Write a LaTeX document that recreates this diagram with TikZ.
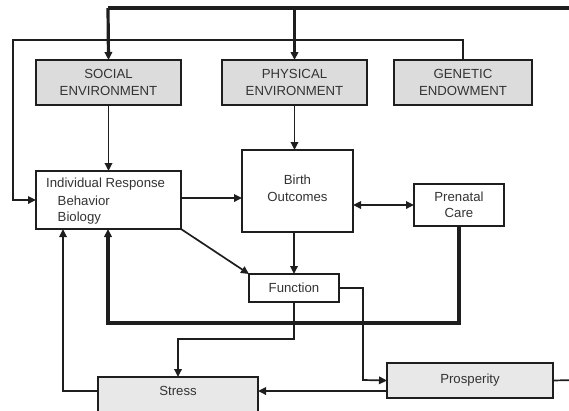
\documentclass[tikz,border=0pt]{standalone}
\usepackage{fontspec}
\setmainfont{Liberation Sans}
\usetikzlibrary{arrows.meta}
\definecolor{boxgray}{HTML}{DCDCDC}
\definecolor{lightgray}{HTML}{E8E8E8}
\definecolor{ink}{HTML}{1E1E1E}
\definecolor{txt}{HTML}{333333}
\begin{document}
\begin{tikzpicture}[x=1pt,y=-1pt,
  txtfont/.style={font=\fontsize{13.2}{16.5}\selectfont,text=txt},
  box/.style={draw=ink,line width=1.8pt,inner sep=0pt,outer sep=0pt,txtfont,align=center},
  graybox/.style={box,fill=boxgray},
  lightbox/.style={box,fill=lightgray},
  conn/.style={draw=ink,line width=1.7pt},
  thickconn/.style={draw=ink,line width=3.2pt},
  arr/.style={-{Triangle[length=8pt,width=7.5pt]}},
  darr/.style={{Triangle[length=8pt,width=7.5pt]}-{Triangle[length=8pt,width=7.5pt]}}
]
\useasboundingbox (0,0) rectangle (569,410);
\clip (0,0) rectangle (569,410);
% boxes
\node[graybox,minimum width=145pt,minimum height=45pt] (social) at (108.5,82.5) {SOCIAL\\ENVIRONMENT};
\node[graybox,minimum width=145pt,minimum height=45pt] (physical) at (294.5,82.5) {PHYSICAL\\ENVIRONMENT};
\node[graybox,minimum width=138pt,minimum height=45pt] (genetic) at (463,82.5) {GENETIC\\ENDOWMENT};
\node[box,minimum width=145pt,minimum height=58pt] (indiv) at (108.5,200) {};
\node[txtfont,anchor=west,inner sep=0pt] (t1) at (46,184) {Individual Response};
\node[txtfont,anchor=west,inner sep=0pt] (t2) at (57.5,201) {Behavior};
\node[txtfont,anchor=west,inner sep=0pt] (t3) at (57.5,218) {Biology};
\node[box,minimum width=111pt,minimum height=82pt] (birth) at (297.5,191) {};
\node[txtfont,align=center] (birtht) at (297.5,188.5) {Birth\\Outcomes};
\node[box,minimum width=90pt,minimum height=42pt] (prenatal) at (459,205) {Prenatal\\Care};
\node[box,minimum width=90pt,minimum height=28pt] (function) at (294,288) {Function};
\node[lightbox,minimum width=166pt,minimum height=35pt] (prosp) at (470,380.5) {Prosperity};
\node[lightbox,minimum width=160pt,minimum height=60pt] (stress) at (178,407) {};
\node[txtfont] (stresst) at (178,391) {Stress};
% coordinates
\coordinate (topR) at (575,8);
\coordinate (topL) at (108,8);
\coordinate (tl) at (13,40);
\coordinate (tr) at (463,40);
\coordinate (loopR) at (459,323);
\coordinate (loopL) at (108,323);
\coordinate (fb) at (294,339);
\coordinate (sb) at (178,339);
\coordinate (fr) at (363,288);
\coordinate (fd) at (363,380);
\coordinate (sl) at (63,391);
\coordinate (pr) at (575,380);
% thick top line
\draw[thickconn] (topR) -- (topL);
\draw[thickconn,arr] (topL) -- (social.north);
\draw[thickconn,arr] (physical.north |- topR) -- (physical.north);
% thin feedback line from genetic
\draw[conn,arr] (genetic.north) -- (tr) -- (tl) -- (tl |- indiv.west) -- (indiv.west);
% vertical arrows
\draw[conn,arr] (social.south) -- (indiv.north);
\draw[conn,arr] (physical.south) -- (physical.south |- birth.north);
\draw[conn,arr] (indiv.east |- 0,198) -- (birth.west |- 0,198);
\draw[conn,darr] (birth.east |- prenatal.west) -- (prenatal.west);
\draw[conn,arr] (birth.south -| function.north) -- (function.north);
\draw[conn,arr] (indiv.south east) -- (function.north west);
% prenatal loop
\draw[thickconn,arr] (prenatal.south) -- (loopR) -- (loopL) -- (indiv.south -| loopL);
% function to stress
\draw[conn,arr] (function.south) -- (fb) -- (sb) -- (stress.north);
% function to prosperity
\draw[conn,arr] (function.east) -- (fr) -- (fd) -- (prosp.west);
% prosperity to stress
\draw[conn,arr] (prosp.west |- 0,391) -- (stress.east |- 0,391);
% stress to individual
\draw[conn,arr] (stress.west |- 0,391) -- (sl) -- (sl |- indiv.south);
% prosperity to right edge
\draw[conn] (prosp.east) -- (pr);
\end{tikzpicture}
\end{document}
